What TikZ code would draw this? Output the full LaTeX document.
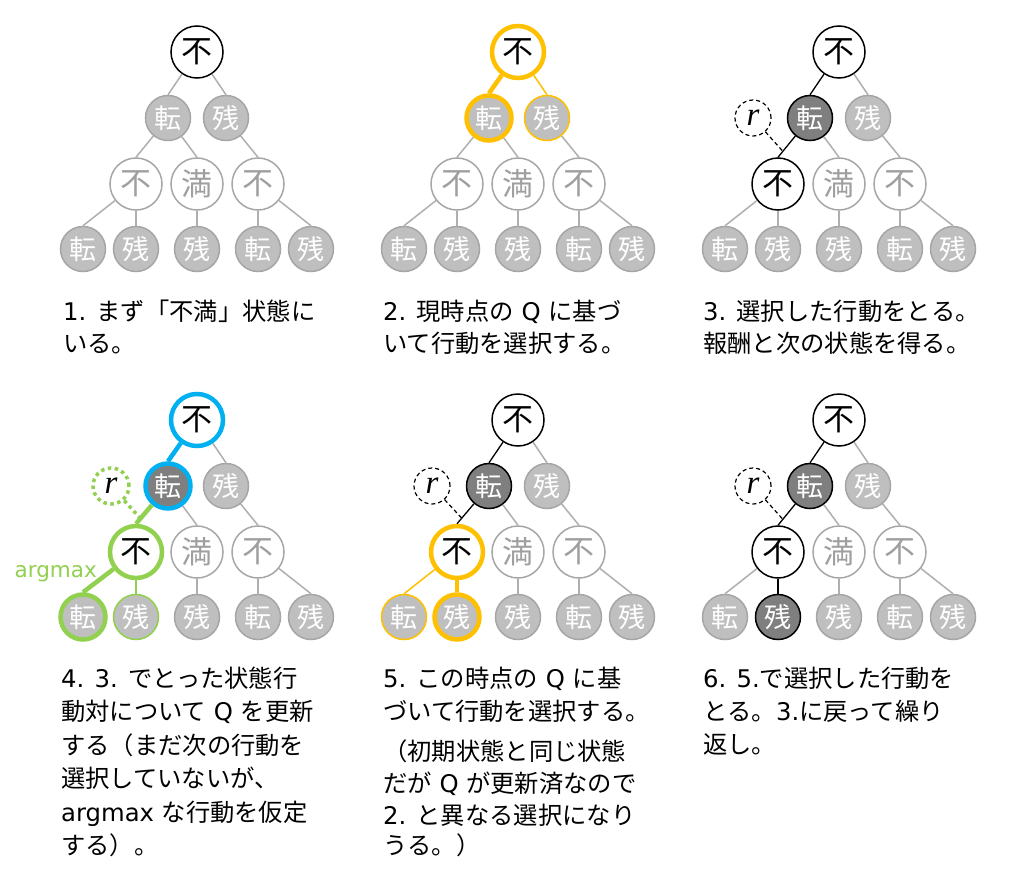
\documentclass[tikz,border=0pt]{standalone}
\usepackage{fontspec}
\setmainfont{Noto Sans CJK JP}
\newfontfamily\lat{DejaVu Sans}
\newfontfamily\rfont{Liberation Serif}
\definecolor{ngray}{HTML}{A6A6A6}
\definecolor{gfill}{HTML}{BFBFBF}
\definecolor{tgray}{HTML}{9F9F9F}
\definecolor{egray}{HTML}{AFAFAF}
\definecolor{dgray}{HTML}{7F7F7F}
\definecolor{yel}{HTML}{FFC000}
\definecolor{blu}{HTML}{00B0F0}
\definecolor{grn}{HTML}{92D050}
\newcommand\lt[1]{{\lat #1}}
\tikzset{
  big/.style={circle, minimum size=52pt, inner sep=0pt, font=\fontsize{31}{31}\selectfont, line width=1.5pt},
  sml/.style={circle, minimum size=45pt, inner sep=0pt, font=\fontsize{27}{27}\selectfont, line width=1.5pt},
  wblk/.style={draw=black, fill=white, text=black},
  wgry/.style={draw=ngray, fill=white, text=tgray},
  gfil/.style={draw=ngray, fill=gfill, text=white},
  dfil/.style={draw=black, fill=dgray, text=white},
  egry/.style={draw=egray, line width=1.5pt},
  eblk/.style={draw=black, line width=1.3pt},
  heavy/.style={line width=4.5pt},
  rnode/.style={circle, minimum size=36pt, inner sep=0pt, draw=black, line width=1.2pt, dash pattern=on 4pt off 3pt, font=\rfont\itshape\fontsize{33}{33}\selectfont},
  rlink/.style={draw=black, line width=1.2pt, dash pattern=on 4pt off 3pt},
  grnode/.style={circle, minimum size=36pt, inner sep=0pt, draw=grn, line width=3.5pt, dash pattern=on 3.5pt off 3.5pt, font=\rfont\itshape\fontsize{33}{33}\selectfont},
  grlink/.style={draw=grn, line width=3.5pt, dash pattern=on 3.5pt off 3.5pt},
  captxt/.style={anchor=base west, inner sep=0pt, font=\fontsize{24.3}{30}\selectfont},
  sR/.style={big,wblk}, sA/.style={sml,gfil}, sB/.style={sml,gfil},
  sC/.style={big,wgry}, sD/.style={big,wgry}, sE/.style={big,wgry},
  sF/.style={sml,gfil}, sG/.style={sml,gfil}, sH/.style={sml,gfil},
  sI/.style={sml,gfil}, sJ/.style={sml,gfil},
  eRA/.style={egry}, eRB/.style={egry}, eAC/.style={egry}, eAD/.style={egry},
  eBE/.style={egry}, eCF/.style={egry}, eCG/.style={egry}, eDH/.style={egry},
  eEI/.style={egry}, eEJ/.style={egry}
}
\newcommand\qtree[1]{%
  \node[sR] (#1R) at (197,52) {不};
  \node[sA] (#1A) at (168,118) {転};
  \node[sB] (#1B) at (226,118) {残};
  \node[sC] (#1C) at (136,184) {不};
  \node[sD] (#1D) at (197,184) {満};
  \node[sE] (#1E) at (258,184) {不};
  \node[sF] (#1F) at (83,249) {転};
  \node[sG] (#1G) at (136,249) {残};
  \node[sH] (#1H) at (197,249) {残};
  \node[sI] (#1I) at (258,249) {転};
  \node[sJ] (#1J) at (311,249) {残};
  \draw[eRA] (#1R) -- (#1A.north);
  \draw[eRB] (#1R) -- (#1B.north);
  \draw[eAC] (#1A) -- coordinate[pos=0.72] (#1m) (#1C.north);
  \draw[eAD] (#1A) -- (#1D.north);
  \draw[eBE] (#1B) -- (#1E.north);
  \draw[eCF] (#1C) -- (#1F.north);
  \draw[eCG] (#1C) -- (#1G.north);
  \draw[eDH] (#1D) -- (#1H.north);
  \draw[eEI] (#1E) -- (#1I.north);
  \draw[eEJ] (#1E) -- (#1J.north);
}
\begin{document}
\begin{tikzpicture}[x=1pt,y=-1pt]
\useasboundingbox[fill=white] (0,0) rectangle (1024,875);
% panel 1
\begin{scope}
  \qtree{p}
\end{scope}
% panel 2
\begin{scope}[shift={(321,0)},
  sR/.style={big,wblk,draw=yel,heavy},
  sA/.style={sml,gfil,draw=yel,heavy},
  sB/.style={sml,gfil,draw=yel},
  eRA/.style={draw=yel,heavy}, eRB/.style={draw=yel,line width=1.5pt}]
  \qtree{q}
\end{scope}
% panel 3
\begin{scope}[shift={(642,0)},
  sA/.style={sml,dfil}, sC/.style={big,wblk},
  eRA/.style={eblk}, eAC/.style={eblk}]
  \qtree{s}
  \node[rnode] (sr) at (111,118) {r};
  \draw[rlink] (sr) -- (sm);
\end{scope}
% panel 4
\begin{scope}[shift={(0,368)},
  sR/.style={big,wblk,draw=blu,heavy},
  sA/.style={sml,dfil,draw=blu,heavy},
  sC/.style={big,wblk,draw=grn,heavy},
  sF/.style={sml,gfil,draw=grn,heavy},
  sG/.style={sml,gfil,draw=grn},
  eRA/.style={draw=blu,heavy}, eAC/.style={draw=grn,heavy},
  eCF/.style={draw=grn,heavy}, eCG/.style={draw=grn,line width=1.5pt}]
  \qtree{t}
  \node[grnode] (tr) at (111,118) {r};
  \draw[grlink] (tr) -- (tm);
  \node[anchor=base east, inner sep=0pt, text=grn, font=\lat\fontsize{21.5}{26}\selectfont] (targ) at (97,209) {argmax};
\end{scope}
% panel 5
\begin{scope}[shift={(321,368)},
  sA/.style={sml,dfil}, sC/.style={big,wblk,draw=yel,heavy},
  sF/.style={sml,gfil,draw=yel},
  sG/.style={sml,gfil,draw=yel,heavy},
  eRA/.style={eblk}, eAC/.style={eblk},
  eCF/.style={draw=yel,line width=1.5pt}, eCG/.style={draw=yel,heavy}]
  \qtree{u}
  \node[rnode] (ur) at (111,118) {r};
  \draw[rlink] (ur) -- (um);
\end{scope}
% panel 6
\begin{scope}[shift={(642,368)},
  sA/.style={sml,dfil}, sC/.style={big,wblk}, sG/.style={sml,dfil},
  eRA/.style={eblk}, eAC/.style={eblk}, eCG/.style={eblk}]
  \qtree{v}
  \node[rnode] (vr) at (111,118) {r};
  \draw[rlink] (vr) -- (vm);
\end{scope}
% captions
\node[captxt] (c1a) at (63,320) {\lt{1. }まず「不満」状態に};
\node[captxt] (c1b) at (63,352) {いる。};
\node[captxt] (c2a) at (383,320) {\lt{2. }現時点の\lt{ Q }に基づ};
\node[captxt] (c2b) at (383,352) {いて行動を選択する。};
\node[captxt] (c3a) at (703,320) {\lt{3. }選択した行動をとる。};
\node[captxt] (c3b) at (703,352) {報酬と次の状態を得る。};
\node[captxt] (c4a) at (61,687) {\lt{4. 3. }でとった状態行};
\node[captxt] (c4b) at (61,720.5) {動対について\lt{ Q }を更新};
\node[captxt] (c4c) at (61,754) {する（まだ次の行動を};
\node[captxt] (c4d) at (61,787.5) {選択していないが、};
\node[captxt] (c4e) at (61,821) {\lt{argmax }な行動を仮定};
\node[captxt] (c4f) at (61,854.5) {する）。};
\node[captxt] (c5a) at (383,687) {\lt{5. }この時点の\lt{ Q }に基};
\node[captxt] (c5b) at (383,720) {づいて行動を選択する。};
\node[captxt] (c5c) at (383,760) {（初期状態と同じ状態};
\node[captxt] (c5d) at (383,792) {だが\lt{ Q }が更新済なので};
\node[captxt] (c5e) at (383,824) {\lt{2. }と異なる選択になり};
\node[captxt] (c5f) at (383,854) {うる。）};
\node[captxt] (c6a) at (703,687) {\lt{6. 5.}で選択した行動を};
\node[captxt] (c6b) at (703,720) {とる。\lt{3.}に戻って繰り};
\node[captxt] (c6c) at (703,753) {返し。};
\end{tikzpicture}
\end{document}
